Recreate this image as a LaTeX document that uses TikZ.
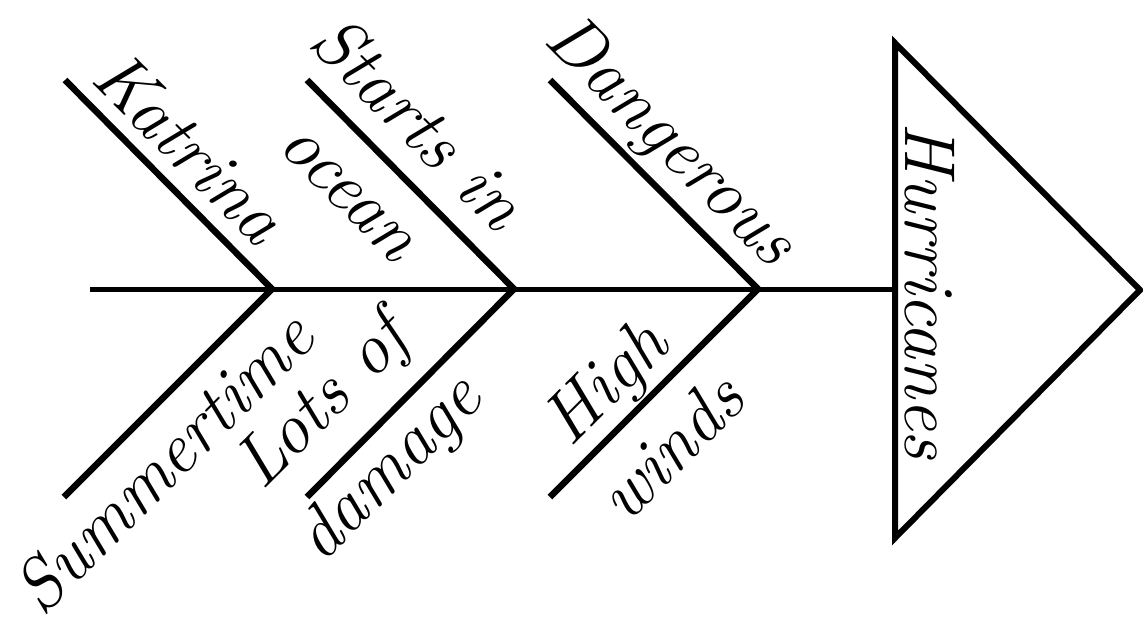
\documentclass[tikz,border=0pt]{standalone}
\usepackage{fontspec}
\setmainfont{Latin Modern Roman}
\begin{document}
\begin{tikzpicture}[x=1pt,y=-1pt,
  spine/.style={line width=5pt},
  bone/.style={line width=6.5pt, miter limit=10},
  headbox/.style={line width=6pt, line join=miter},
  lbl/.style={font=\fontsize{72}{94}\selectfont\itshape, align=center, inner sep=0pt}]
  \useasboundingbox (0,0) rectangle (1143,616);

  % head of the fish
  \coordinate (htop) at (895,43);
  \coordinate (hbot) at (895,538);
  \coordinate (hnose) at (1140,290);
  \coordinate (hmid) at (895,289);
  \draw[headbox] (htop) -- (hnose) -- (hbot) -- cycle;
  \node[lbl, rotate=-90] (hur) at (930,291) {Hurricanes};

  % backbone
  \coordinate (tail) at (90,289);
  \draw[spine] (tail) -- (hmid);

  % junctions on the backbone and free ends of the bones
  \coordinate (j1) at (272,289);
  \coordinate (j2) at (514,289);
  \coordinate (j3) at (758,289);
  \coordinate (t1) at (65,80);
  \coordinate (t2) at (307,80);
  \coordinate (t3) at (550,80);
  \coordinate (b1) at (64,497);
  \coordinate (b2) at (307,497);
  \coordinate (b3) at (550,497);

  \draw[bone] (t1) -- (j1) -- (b1);
  \draw[bone] (t2) -- (j2) -- (b2);
  \draw[bone] (t3) -- (j3) -- (b3);

  % causes
  \node[lbl, rotate=-45] (katrina) at (190,147) {Katrina};
  \node[lbl, rotate=-45] (starts) at (386,155) {Starts in\\ocean};
  \node[lbl, rotate=-45] (danger) at (669,143) {Dangerous};
  \node[lbl, rotate=45] (summer) at (163,462) {Summertime};
  \node[lbl, rotate=45] (lots) at (358,437) {Lots of\\damage};
  \node[lbl, rotate=45] (high) at (637,414) {High\\winds};
\end{tikzpicture}
\end{document}
